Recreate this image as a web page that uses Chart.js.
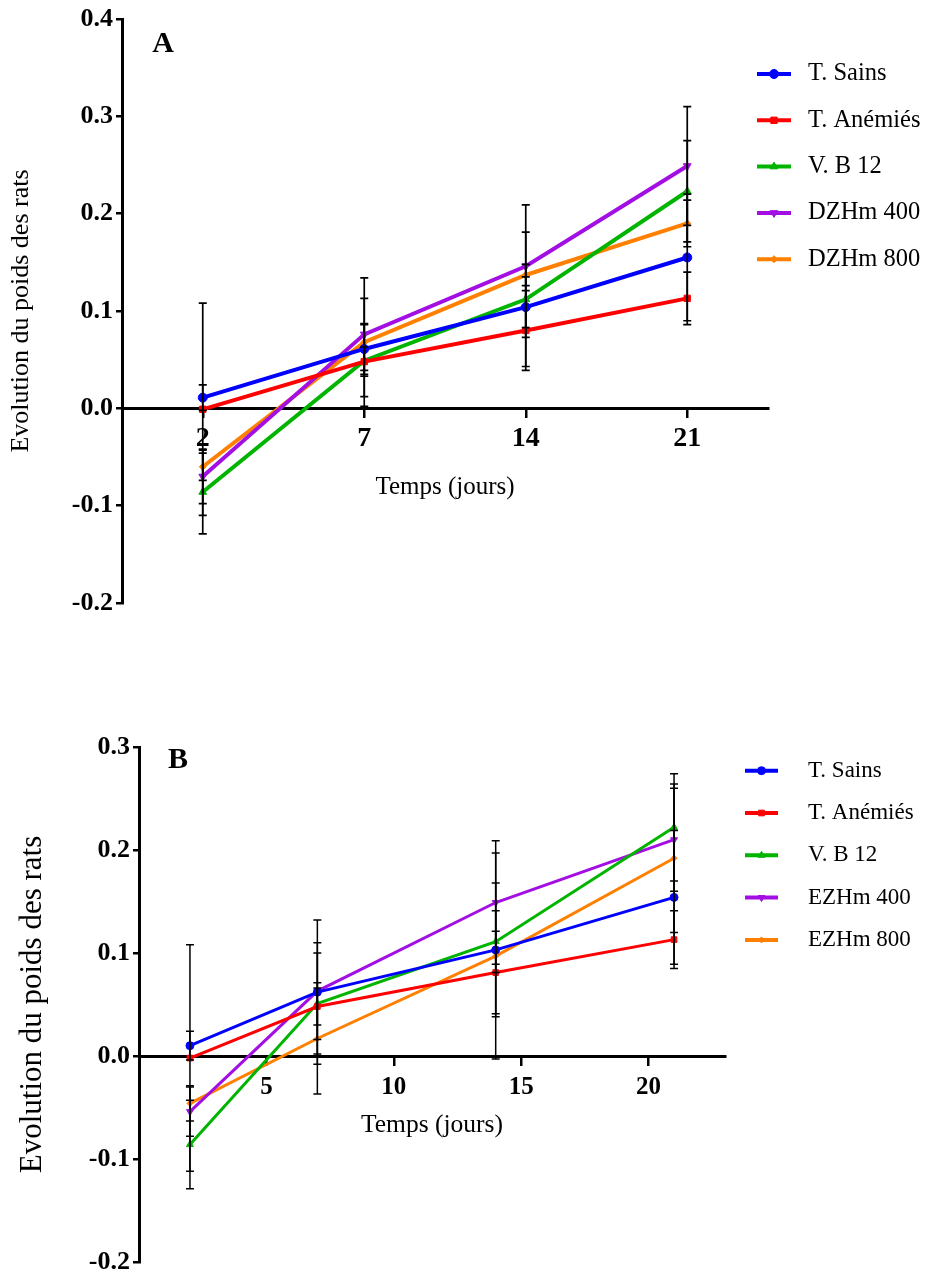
<!DOCTYPE html>
<html>
<head>
<meta charset="utf-8">
<script src="https://cdn.jsdelivr.net/npm/chart.js"></script>
<style>
  html, body { margin: 0; padding: 0; background: #fff; overflow: hidden; }
  canvas { position: absolute; left: 0; }
  #chartA { top: 0; }
  #chartB { top: 700px; }
</style>
</head>
<body>
<canvas id="chartA" width="925" height="700"></canvas>
<canvas id="chartB" width="925" height="652"></canvas>
<script>
// ---- data ----
const daysA = ['2', '7', '14', '21'];
const daysB = [2, 7, 14, 21];

const namesA = ['T. Sains', 'T. Anémiés', 'V. B 12', 'DZHm 400', 'DZHm 800'];
const namesB = ['T. Sains', 'T. Anémiés', 'V. B 12', 'EZHm 400', 'EZHm 800'];

// panel A means
const sainsA = [0.011, 0.061, 0.104, 0.155];
const anemiesA = [-0.001, 0.048, 0.080, 0.113];
const vb12A = [-0.086, 0.049, 0.112, 0.223];
const dzhm400A = [-0.070, 0.076, 0.146, 0.249];
const dzhm800A = [-0.060, 0.068, 0.137, 0.190];
// panel A error (+/-)
const sainsErrA = [0.013, 0.026, 0.031, 0.065];
const anemiesErrA = [0.109, 0.015, 0.041, 0.027];
const vb12ErrA = [0.043, 0.037, 0.069, 0.052];
const dzhm400ErrA = [0.028, 0.037, 0.063, 0.061];
const dzhm800ErrA = [0.014, 0.066, 0.011, 0.024];

// panel B means
const sainsB = [0.010, 0.062, 0.103, 0.154];
const anemiesB = [-0.002, 0.048, 0.081, 0.113];
const vb12B = [-0.086, 0.051, 0.111, 0.222];
const ezhm400B = [-0.054, 0.063, 0.149, 0.210];
const ezhm800B = [-0.046, 0.017, 0.097, 0.192];
// panel B error (+/-)
const sainsErrB = [0.014, 0.070, 0.065, 0.065];
const anemiesErrB = [0.110, 0.018, 0.040, 0.028];
const vb12ErrB = [0.043, 0.049, 0.030, 0.052];
const ezhm400ErrB = [0.024, 0.047, 0.060, 0.050];
const ezhm800ErrB = [0.017, 0.054, 0.100, 0.072];

// ---- styles ----
const colors = ['#0000ff', '#ff0000', '#00b400', '#a30fe3', '#ff8000'];
const pointStyles = ['circle', 'rect', 'triangle', 'triangle', 'rectRot'];
const pointRotations = [0, 0, 0, 180, 0];
const serif = '"Liberation Serif", "Times New Roman", serif';

function buildDatasets(names, values, errors, xs, lineWidth, radius) {
    return names.map((name, i) => ({
        label: name,
        data: xs ? values[i].map((v, j) => ({ x: xs[j], y: v })) : values[i],
        errors: errors[i],
        borderColor: colors[i],
        backgroundColor: colors[i],
        borderWidth: lineWidth,
        pointStyle: pointStyles[i],
        pointRotation: pointRotations[i],
        pointRadius: pointStyles[i] === 'rectRot' ? radius - 1 : radius,
        pointBorderWidth: 1,
        tension: 0,
        fill: false,
    }));
}

// vertical error bars, drawn through the y scale
const errorBars = {
    id: 'errorBars',
    afterDatasetsDraw(chart, args, opts) {
        const ctx = chart.ctx;
        const yScale = chart.scales.y;
        ctx.save();
        ctx.strokeStyle = '#000';
        ctx.lineWidth = opts.width;
        chart.data.datasets.forEach((ds, i) => {
            const meta = chart.getDatasetMeta(i);
            meta.data.forEach((pt, j) => {
                const d = ds.data[j];
                const v = typeof d === 'object' ? d.y : d;
                const e = ds.errors[j];
                const top = yScale.getPixelForValue(v + e);
                const bot = yScale.getPixelForValue(v - e);
                ctx.beginPath();
                ctx.moveTo(pt.x, top);
                ctx.lineTo(pt.x, bot);
                ctx.moveTo(pt.x - opts.cap, top);
                ctx.lineTo(pt.x + opts.cap, top);
                ctx.moveTo(pt.x - opts.cap, bot);
                ctx.lineTo(pt.x + opts.cap, bot);
                ctx.stroke();
            });
        });
        ctx.restore();
    },
};

// legend to the right, plus the panel letter
const sideLegend = {
    id: 'sideLegend',
    afterDraw(chart, args, opts) {
        const ctx = chart.ctx;
        ctx.save();
        chart.data.datasets.forEach((ds, i) => {
            const y = opts.y0 + i * opts.gap;
            ctx.strokeStyle = ds.borderColor;
            ctx.lineWidth = opts.lineWidth;
            ctx.beginPath();
            ctx.moveTo(opts.x0, y);
            ctx.lineTo(opts.x1, y);
            ctx.stroke();
            ctx.fillStyle = ds.borderColor;
            ctx.lineWidth = 1;
            Chart.helpers.drawPoint(ctx, {
                pointStyle: ds.pointStyle,
                rotation: ds.pointRotation,
                radius: ds.pointRadius,
                borderWidth: 1,
            }, (opts.x0 + opts.x1) / 2, y);
            ctx.fillStyle = '#000';
            ctx.font = opts.fontSize + 'px ' + serif;
            ctx.textBaseline = 'middle';
            ctx.textAlign = 'left';
            ctx.fillText(ds.label, opts.textX, y);
        });
        ctx.font = 'bold 30px ' + serif;
        ctx.textAlign = 'center';
        ctx.textBaseline = 'middle';
        ctx.fillStyle = '#000';
        ctx.fillText(opts.panel, opts.panelX, opts.panelY);
        ctx.restore();
    },
};

function yAxis(min, max, width, titleSize, titlePad) {
    return {
        min: min,
        max: max,
        afterFit: (scale) => { scale.width = width; },
        ticks: {
            stepSize: 0.1,
            color: '#000',
            padding: 3,
            font: { family: serif, size: 26, weight: 'bold' },
            callback: (v) => (Math.abs(v) < 1e-9 ? 0 : v).toFixed(1),
        },
        grid: { display: true, drawOnChartArea: false, drawTicks: true, tickLength: 6, color: '#000', lineWidth: 2.5 },
        border: { display: true, color: '#000', width: 3 },
        title: {
            display: true,
            text: 'Evolution du poids des rats',
            color: '#000',
            font: { family: serif, size: titleSize },
            padding: { top: titlePad, bottom: 0 },
        },
    };
}

const chartA = new Chart(document.getElementById('chartA'), {
    type: 'line',
    data: {
        labels: daysA,
        datasets: buildDatasets(namesA,
            [sainsA, anemiesA, vb12A, dzhm400A, dzhm800A],
            [sainsErrA, anemiesErrA, vb12ErrA, dzhm400ErrA, dzhm800ErrA],
            null, 4, 4.5),
    },
    options: {
        responsive: false,
        animation: false,
        layout: { padding: { left: 0, right: 157, top: 19, bottom: 97 } },
        scales: {
            x: {
                type: 'category',
                position: { y: 0 },
                offset: true,
                afterFit: (scale) => { scale.height = 97; },
                ticks: { color: '#000', padding: 6, font: { family: serif, size: 28, weight: 'bold' } },
                grid: { display: true, drawOnChartArea: false, drawTicks: true, tickLength: 8, color: '#000', lineWidth: 2.5 },
                border: { display: true, color: '#000', width: 3 },
                title: { display: true, text: 'Temps (jours)', color: '#000', font: { family: serif, size: 25 }, padding: { top: 0, bottom: 3 } },
            },
            y: yAxis(-0.2, 0.4, 122, 26, 6),
        },
        plugins: {
            legend: { display: false },
            tooltip: { enabled: false },
            errorBars: { width: 1.7, cap: 4 },
            sideLegend: { x0: 757, x1: 791, textX: 808, y0: 74, gap: 46.3, lineWidth: 4, fontSize: 24.5, panel: 'A', panelX: 163, panelY: 44 },
        },
    },
    plugins: [errorBars, sideLegend],
});

const chartB = new Chart(document.getElementById('chartB'), {
    type: 'line',
    data: {
        datasets: buildDatasets(namesB,
            [sainsB, anemiesB, vb12B, ezhm400B, ezhm800B],
            [sainsErrB, anemiesErrB, vb12ErrB, ezhm400ErrB, ezhm800ErrB],
            daysB, 3, 4),
    },
    options: {
        responsive: false,
        animation: false,
        layout: { padding: { left: 0, right: 200, top: 47, bottom: 90 } },
        scales: {
            x: {
                type: 'linear',
                position: { y: 0 },
                min: 0,
                max: 23,
                afterFit: (scale) => { scale.height = 90; },
                ticks: {
                    stepSize: 5,
                    includeBounds: false,
                    color: '#000',
                    padding: 9,
                    font: { family: serif, size: 25, weight: 'bold' },
                    callback: (v) => (v === 0 ? '' : v),
                },
                grid: { display: true, drawOnChartArea: false, drawTicks: true, tickLength: 8, color: '#000', lineWidth: 2.5 },
                border: { display: true, color: '#000', width: 3 },
                title: { display: true, text: 'Temps (jours)', color: '#000', font: { family: serif, size: 25.5 }, padding: { top: 0, bottom: 5 } },
            },
            y: yAxis(-0.2, 0.3, 139, 31, 14),
        },
        plugins: {
            legend: { display: false },
            tooltip: { enabled: false },
            errorBars: { width: 1.5, cap: 4 },
            sideLegend: { x0: 745, x1: 778, textX: 808, y0: 70.7, gap: 42.3, lineWidth: 4, fontSize: 23, panel: 'B', panelX: 178, panelY: 60 },
        },
    },
    plugins: [errorBars, sideLegend],
});
</script>
</body>
</html>
